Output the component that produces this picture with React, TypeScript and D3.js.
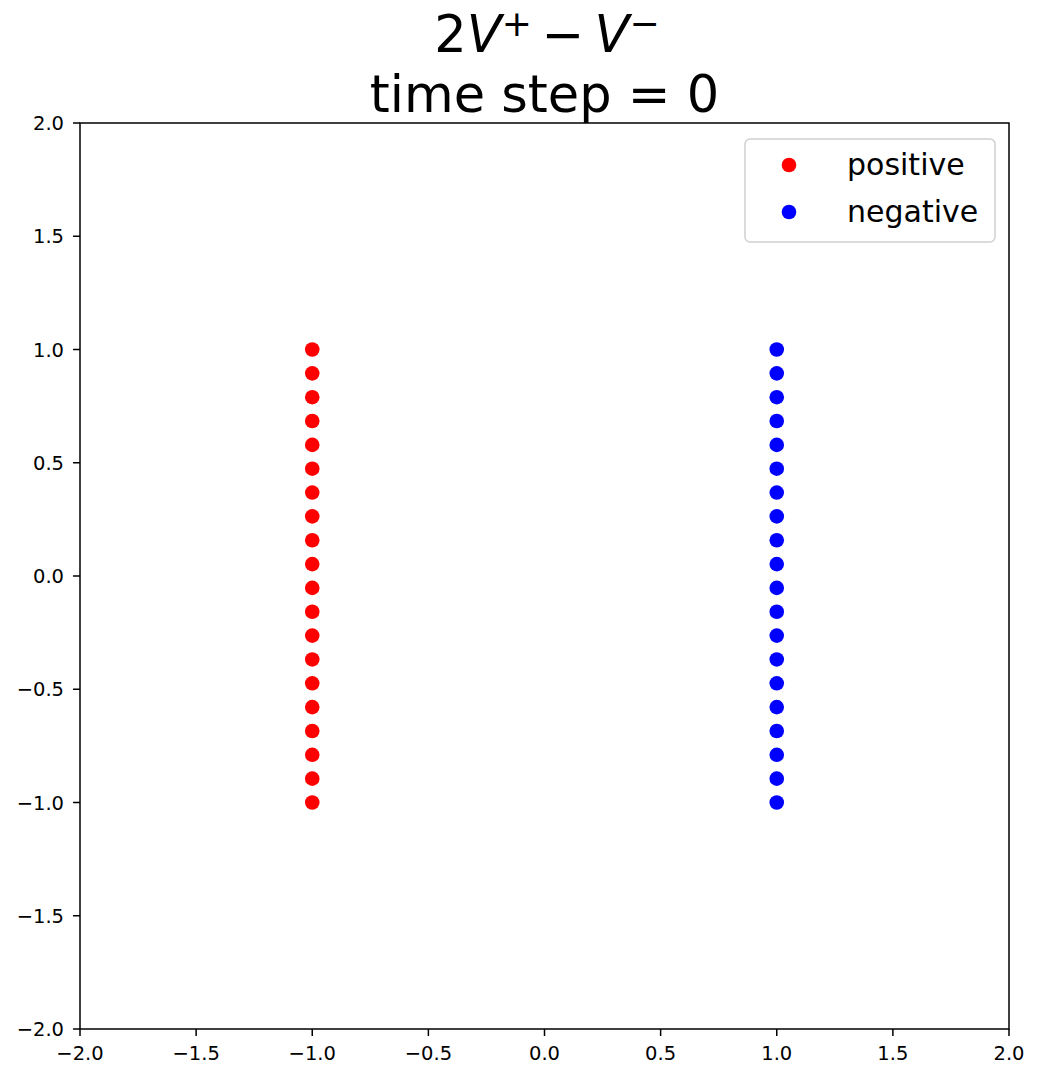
import React from "react";
import * as d3 from "d3";

const N = 20;
const yValues = [1.0, 0.8947, 0.7895, 0.6842, 0.5789, 0.4737, 0.3684, 0.2632, 0.1579, 0.0526,
  -0.0526, -0.1579, -0.2632, -0.3684, -0.4737, -0.5789, -0.6842, -0.7895, -0.8947, -1.0];
const positiveX = -1.0;
const negativeX = 1.0;
const xTicks = [-2.0, -1.5, -1.0, -0.5, 0.0, 0.5, 1.0, 1.5, 2.0];
const yTicks = [-2.0, -1.5, -1.0, -0.5, 0.0, 0.5, 1.0, 1.5, 2.0];
const seriesNames = ["positive", "negative"];
const seriesColors = ["#ff0000", "#0000ff"];

const W = 1041, H = 1079;
const L = 80, R = 1009, T = 123, B = 1029;
const font = "DejaVu Sans, sans-serif";
const fmt = (v: number) => v.toFixed(1).replace("-", "\u2212");

export default function App() {
  const x = d3.scaleLinear().domain([-2, 2]).range([L, R]);
  const y = d3.scaleLinear().domain([-2, 2]).range([B, T]);
  const pos = yValues.slice(0, N).map((v) => ({ x: positiveX, y: v }));
  const neg = yValues.slice(0, N).map((v) => ({ x: negativeX, y: v }));
  return (
    <svg width={W} height={H} style={{ position: "absolute", left: 0, top: 0, background: "#fff" }}>
      <rect x={0} y={0} width={W} height={H} fill="#fff" />
      <text x={547} y={52} textAnchor="middle" fontFamily={font} fontSize={51} fill="#000">
        <tspan>2</tspan>
        <tspan fontStyle="italic">V</tspan>
        <tspan fontSize={36} dy={-16}>+</tspan>
        <tspan dy={16} dx={10}>{"\u2212"}</tspan>
        <tspan fontStyle="italic" dx={10}>V</tspan>
        <tspan fontSize={36} dy={-16}>{"\u2212"}</tspan>
      </text>
      <text x={(L + R) / 2} y={112} textAnchor="middle" fontFamily={font} fontSize={51} fill="#000">
        time step = 0
      </text>
      {pos.map((d, i) => (
        <circle key={"p" + i} cx={x(d.x)} cy={y(d.y)} r={7.3} fill={seriesColors[0]} />
      ))}
      {neg.map((d, i) => (
        <circle key={"n" + i} cx={x(d.x)} cy={y(d.y)} r={7.3} fill={seriesColors[1]} />
      ))}
      <rect x={L} y={T} width={R - L} height={B - T} fill="none" stroke="#000" strokeWidth={1.5} />
      {xTicks.map((t) => (
        <g key={"x" + t}>
          <line x1={x(t)} x2={x(t)} y1={B} y2={B + 7} stroke="#000" strokeWidth={1.5} />
          <text x={x(t)} y={1060} textAnchor="middle" fontFamily={font} fontSize={19.5} fill="#000">{fmt(t)}</text>
        </g>
      ))}
      {yTicks.map((t) => (
        <g key={"y" + t}>
          <line x1={L - 7} x2={L} y1={y(t)} y2={y(t)} stroke="#000" strokeWidth={1.5} />
          <text x={64} y={y(t) + 7} textAnchor="end" fontFamily={font} fontSize={19.5} fill="#000">{fmt(t)}</text>
        </g>
      ))}
      <rect x={745} y={139} width={250} height={103} rx={5} fill="#fff" fillOpacity={0.8} stroke="#d0d0d0" strokeWidth={1.5} />
      {seriesNames.map((n, i) => (
        <g key={n}>
          <circle cx={789} cy={165 + i * 47} r={7.3} fill={seriesColors[i]} />
          <text x={847} y={175 + i * 47} fontFamily={font} fontSize={30} fill="#000">{n}</text>
        </g>
      ))}
    </svg>
  );
}
